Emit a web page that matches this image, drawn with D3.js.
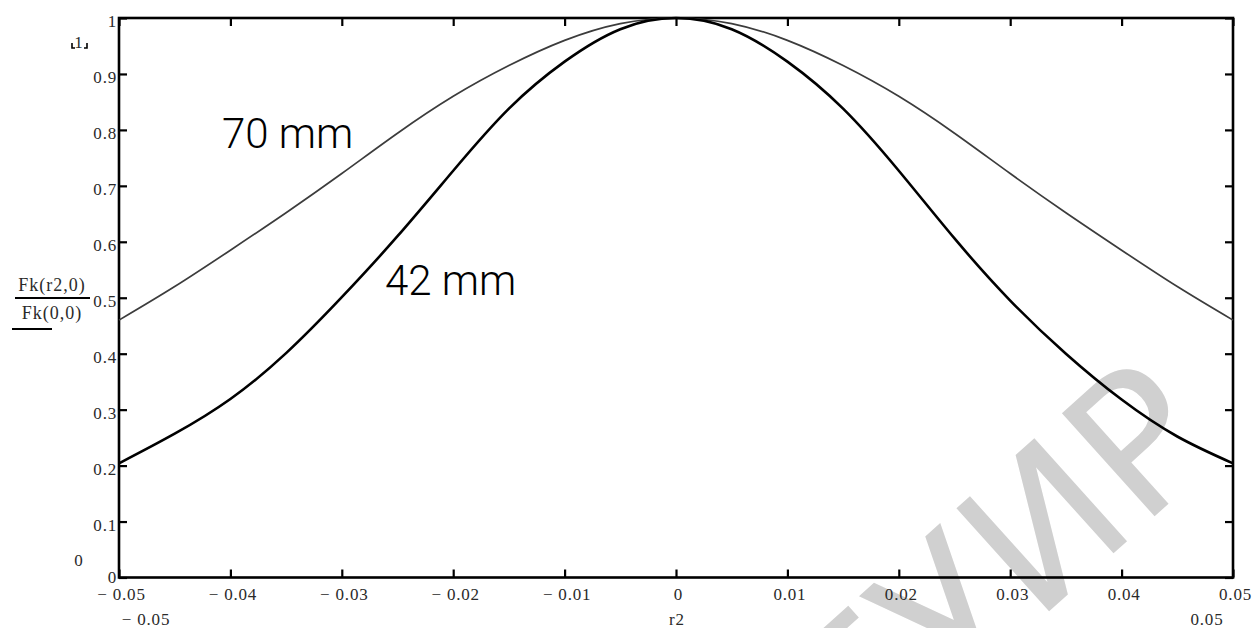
<!DOCTYPE html>
<html>
<head>
<meta charset="utf-8">
<script src="https://cdn.jsdelivr.net/npm/d3@7/dist/d3.min.js"></script>
<style>
  html, body { margin: 0; padding: 0; background: #fff; }
  svg { display: block; }
  .tick text { font-family: "Liberation Serif", "Times New Roman", serif; font-size: 17px; fill: #2a2a2a; letter-spacing: 0.8px; }
  .serif { font-family: "Liberation Serif", "Times New Roman", serif; font-size: 17px; fill: #2a2a2a; letter-spacing: 0.8px; }
  .expr { font-family: "Liberation Serif", "Times New Roman", serif; font-size: 18px; fill: #2a2a2a; letter-spacing: 1px; }
</style>
</head>
<body>
<svg id="chart" width="1254" height="628"></svg>
<script>
// Radial position r2 (m) and normalised kernel Fk(r2,0)/Fk(0,0)
const r2 = [-0.05, -0.045, -0.04, -0.035, -0.03, -0.025, -0.02, -0.015, -0.01, -0.005, 0,
             0.005, 0.01, 0.015, 0.02, 0.025, 0.03, 0.035, 0.04, 0.045, 0.05];
const fk70 = [0.46, 0.52, 0.585, 0.652, 0.722, 0.794, 0.86, 0.915, 0.96, 0.99, 1.0,
              0.99, 0.96, 0.915, 0.86, 0.794, 0.722, 0.652, 0.585, 0.52, 0.46];
const fk42 = [0.204, 0.257, 0.319, 0.401, 0.501, 0.61, 0.727, 0.838, 0.922, 0.98, 1.0,
              0.98, 0.922, 0.838, 0.727, 0.606, 0.495, 0.4, 0.318, 0.252, 0.204];
const seriesLabels = ["70 mm", "42 mm"];
const xTicks = [-0.05, -0.04, -0.03, -0.02, -0.01, 0, 0.01, 0.02, 0.03, 0.04, 0.05];
const yTicks = [0, 0.1, 0.2, 0.3, 0.4, 0.5, 0.6, 0.7, 0.8, 0.9, 1];

const svg = d3.select("#chart");
const plotL = 119, plotR = 1233, plotT = 18, plotB = 577.5;

const x = d3.scaleLinear().domain([-0.05, 0.05]).range([plotL, plotR]);
const y = d3.scaleLinear().domain([0, 1]).range([plotB, plotT]);

const fmt = v => {
  if (v === 0) return "0";
  const s = Math.abs(v).toFixed(2);
  return v < 0 ? "\u2212 " + s : s;
};

// Watermark behind the plot
svg.append("text")
  .attr("transform", "translate(1226,452) rotate(-42)")
  .attr("text-anchor", "end")
  .style("font-family", "DejaVu Sans, sans-serif")
  .style("font-size", "190px")
  .style("fill", "#d0d0d0")
  .text("БГУИР");

// Axes: ticks point into the plot on all four sides
const gx = svg.append("g").attr("transform", `translate(0,${plotB})`)
  .call(d3.axisBottom(x).tickValues(xTicks).tickSize(-8).tickFormat(fmt));
gx.selectAll("text").attr("y", 22).attr("dy", null).attr("dx", 2);

svg.append("g").attr("transform", `translate(0,${plotT})`)
  .call(d3.axisTop(x).tickValues(xTicks).tickSize(-8).tickFormat(""));

const gy = svg.append("g").attr("transform", `translate(${plotL},0)`)
  .call(d3.axisLeft(y).tickValues(yTicks).tickSize(-8).tickPadding(2)
    .tickFormat(v => v === 0 || v === 1 ? String(v) : v.toFixed(1)));
gy.selectAll("text").attr("dy", d => d === 0 ? "0.3em" : "0.5em");

svg.append("g").attr("transform", `translate(${plotR},0)`)
  .call(d3.axisRight(y).tickValues(yTicks).tickSize(-8).tickFormat(""));

svg.selectAll(".domain").remove();
svg.selectAll(".tick line").attr("stroke", "#000").attr("stroke-width", 2.2);

svg.append("rect")
  .attr("x", plotL).attr("y", plotT)
  .attr("width", plotR - plotL).attr("height", plotB - plotT)
  .attr("fill", "none").attr("stroke", "#000").attr("stroke-width", 2.6);

// Curves
const line = d3.line().x(d => x(d[0])).y(d => y(d[1])).curve(d3.curveNatural);
svg.append("path")
  .datum(r2.map((v, i) => [v, fk70[i]]))
  .attr("d", line)
  .attr("fill", "none").attr("stroke", "#3c3c3c").attr("stroke-width", 1.7);
svg.append("path")
  .datum(r2.map((v, i) => [v, fk42[i]]))
  .attr("d", line)
  .attr("fill", "none").attr("stroke", "#000").attr("stroke-width", 2.6);

// Curve annotations
const ann = svg.append("g")
  .style("font-family", "Roboto, sans-serif")
  .style("font-weight", "300")
  .style("font-size", "42px")
  .style("fill", "#000");
ann.append("text").attr("x", 222).attr("y", 148).text(seriesLabels[0]);
ann.append("text").attr("x", 385).attr("y", 295).text(seriesLabels[1]);

// Y-axis expression label
svg.append("text").attr("class", "expr").attr("x", 52).attr("y", 291)
  .attr("text-anchor", "middle").text("Fk(r2,0)");
svg.append("line").attr("x1", 15).attr("x2", 90).attr("y1", 298).attr("y2", 298)
  .attr("stroke", "#000").attr("stroke-width", 2);
svg.append("text").attr("class", "expr").attr("x", 52).attr("y", 319)
  .attr("text-anchor", "middle").text("Fk(0,0)");
svg.append("line").attr("x1", 12).attr("x2", 52).attr("y1", 329).attr("y2", 329)
  .attr("stroke", "#000").attr("stroke-width", 2);

// Upper and lower limit markers of the y range
svg.append("text").attr("class", "serif").attr("x", 79).attr("y", 48)
  .attr("text-anchor", "middle").text("1");
svg.append("path").attr("d", "M72,43 L72,48 L75,48 M87,43 L87,48 L84,48")
  .attr("fill", "none").attr("stroke", "#000").attr("stroke-width", 1.6);
svg.append("text").attr("class", "serif").attr("x", 79).attr("y", 566)
  .attr("text-anchor", "middle").text("0");

// X range limits and variable name
svg.append("text").attr("class", "serif").attr("x", 146).attr("y", 625)
  .attr("text-anchor", "middle").text("\u2212 0.05");
svg.append("text").attr("class", "serif").attr("x", 1207).attr("y", 625)
  .attr("text-anchor", "middle").text("0.05");
svg.append("text").attr("class", "serif").attr("x", 677).attr("y", 625)
  .attr("text-anchor", "middle").text("r2");
</script>
</body>
</html>
